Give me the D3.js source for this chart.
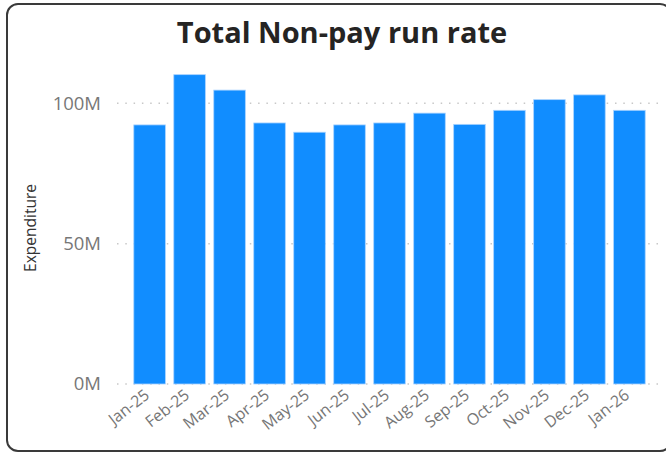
<!DOCTYPE html>
<html>
<head>
<meta charset="utf-8">
<script src="https://cdn.jsdelivr.net/npm/d3@7"></script>
<style>
  html, body { margin: 0; padding: 0; background: #ffffff; }
  svg { display: block; }
</style>
</head>
<body>
<svg id="chart" width="666" height="453"></svg>
<script>
// Monthly non-pay expenditure (millions)
const months = ["Jan-25", "Feb-25", "Mar-25", "Apr-25", "May-25", "Jun-25", "Jul-25",
                "Aug-25", "Sep-25", "Oct-25", "Nov-25", "Dec-25", "Jan-26"];
const expenditure = [92.3, 110.2, 104.7, 93.0, 89.7, 92.3, 93.0, 96.5, 92.5, 97.5, 101.3, 103.0, 97.5];
const yTicks = [0, 50, 100];
const titleText = "Total Non-pay run rate";
const yAxisTitle = "Expenditure";

const font = "'Open Sans', 'Noto Sans', sans-serif";
const svg = d3.select("#chart");

// Card frame
svg.append("rect")
  .attr("x", 7).attr("y", 4)
  .attr("width", 664).attr("height", 447)
  .attr("rx", 11).attr("ry", 11)
  .attr("fill", "#ffffff")
  .attr("stroke", "#3a3a3a")
  .attr("stroke-width", 2);

// Title
svg.append("text")
  .attr("x", 342).attr("y", 43)
  .attr("text-anchor", "middle")
  .attr("font-family", font)
  .attr("font-weight", 700)
  .attr("font-size", 29)
  .attr("fill", "#252423")
  .text(titleText);

const x = d3.scaleBand()
  .domain(months)
  .range([117, 662])
  .paddingInner(0.21)
  .paddingOuter(0.42);

const y = d3.scaleLinear()
  .domain([0, 120])
  .range([384, 384 - 120 * 2.807]);

// Dotted gridlines
svg.append("g")
  .selectAll("line")
  .data(yTicks)
  .join("line")
  .attr("x1", 117).attr("x2", 662)
  .attr("y1", d => y(d)).attr("y2", d => y(d))
  .attr("stroke", "#c8c8c8")
  .attr("stroke-width", 1.5)
  .attr("stroke-dasharray", "1.5,6.8");

// Y axis labels
const yAxis = svg.append("g")
  .attr("transform", "translate(101,0)")
  .call(d3.axisLeft(y).tickValues(yTicks).tickSize(0).tickPadding(0).tickFormat(d => d + "M"));
yAxis.select(".domain").remove();
yAxis.selectAll("text")
  .attr("font-family", font)
  .attr("font-size", 18.5)
  .attr("fill", "#777777");

// Y axis title
svg.append("text")
  .attr("transform", "translate(36,228) rotate(-90)")
  .attr("text-anchor", "middle")
  .attr("font-family", font)
  .attr("font-size", 15.5)
  .attr("fill", "#333333")
  .text(yAxisTitle);

// Bars
svg.append("g")
  .selectAll("rect")
  .data(months.map((m, i) => ({ m, v: expenditure[i] })))
  .join("rect")
  .attr("x", d => x(d.m))
  .attr("width", x.bandwidth())
  .attr("y", d => y(d.v))
  .attr("height", d => y(0) - y(d.v))
  .attr("fill", "#118dff")
  .attr("stroke", "#a9d3ff")
  .attr("stroke-width", 0.8);

// X axis labels
const xAxis = svg.append("g")
  .attr("transform", "translate(0,384)")
  .call(d3.axisBottom(x).tickSize(0).tickPadding(0));
xAxis.select(".domain").remove();
xAxis.selectAll("text")
  .attr("font-family", font)
  .attr("font-size", 16)
  .attr("fill", "#777777")
  .attr("text-anchor", "end")
  .attr("dy", null)
  .attr("y", 0)
  .attr("transform", "translate(1,13) rotate(-38)");
</script>
</body>
</html>
